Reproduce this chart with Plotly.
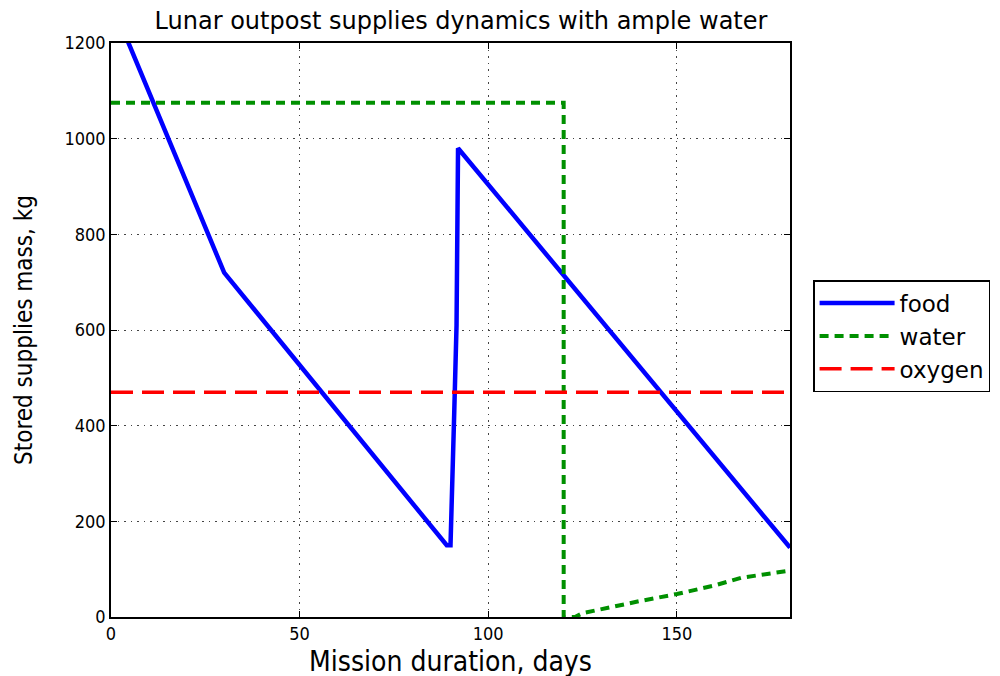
import plotly.graph_objects as go

food_days = [0, 30, 89, 90, 91, 91.6, 92, 180]
food_kg = [1288, 720, 150, 150, 430, 610, 980, 145]

water_days = [0, 120, 120, 123, 125, 133, 140, 150, 160, 167, 173, 180]
water_kg = [1075, 1075, 0, 0, 8, 22, 33, 48, 66, 82, 88, 97]

oxygen_days = [0, 180]
oxygen_kg = [470, 470]

x_ticks = [0, 50, 100, 150]
y_ticks = [0, 200, 400, 600, 800, 1000, 1200]

fig = go.Figure()
fig.add_trace(go.Scatter(x=food_days, y=food_kg, mode="lines", name="food",
                         line=dict(color="#0000ff", width=4.5)))
fig.add_trace(go.Scatter(x=water_days, y=water_kg, mode="lines", name="water",
                         line=dict(color="#009000", width=4, dash="9px,6px")))
fig.add_trace(go.Scatter(x=oxygen_days, y=oxygen_kg, mode="lines", name="oxygen",
                         line=dict(color="#ff0000", width=3.5, dash="22px,9px")))

cond = "DejaVu Sans Condensed, Liberation Sans Narrow, sans-serif"
axis_common = dict(showline=True, linecolor="black", linewidth=1.5, mirror="ticks",
                   ticks="inside", ticklen=6, tickcolor="black",
                   showgrid=True, gridcolor="#444444", griddash="1.5px,5px", gridwidth=1.2,
                   zeroline=False,
                   tickfont=dict(family=cond, size=18, color="black"))

fig.update_layout(
    width=1000, height=676,
    paper_bgcolor="white", plot_bgcolor="white",
    margin=dict(l=103, r=218, t=35, b=67),
    title=dict(text="Lunar outpost supplies dynamics with ample water",
               x=0.453, xanchor="center", y=0.982, yanchor="middle",
               font=dict(family="DejaVu Sans, sans-serif", size=24, color="black")),
    xaxis=dict(range=[0, 180], tickvals=x_ticks,
               title=dict(text="Mission duration, days", standoff=8,
                          font=dict(family=cond, size=28, color="black")),
               **axis_common),
    yaxis=dict(range=[0, 1200], tickvals=y_ticks,
               title=dict(text="Stored supplies mass, kg", standoff=25,
                          font=dict(family=cond, size=24, color="black")),
               **axis_common),
    legend=dict(x=1.034, y=0.587, xanchor="left", yanchor="top",
                bordercolor="black", borderwidth=1.5, bgcolor="white",
                font=dict(family="DejaVu Sans, sans-serif", size=23, color="black"),
                tracegroupgap=0, itemwidth=75),
    showlegend=True,
)

fig.write_html("out.html")
